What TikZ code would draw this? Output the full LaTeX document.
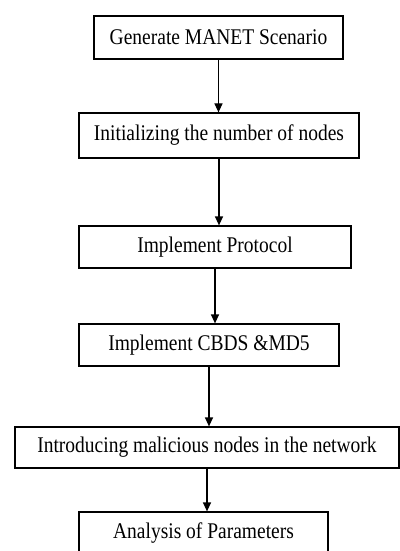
\documentclass[tikz,border=0pt]{standalone}
\usepackage{fontspec}
\setmainfont[FakeStretch=0.87]{Liberation Serif}
\usetikzlibrary{arrows.meta}
\tikzset{
  stepbox/.style={draw, line width=.6pt, inner sep=0pt, font=\fontsize{11.2}{13}\selectfont},
  flow/.style={line width=.6pt, -{Triangle[width=4pt,length=4.5pt]}}
}
\begin{document}
\begin{tikzpicture}[x=.5pt,y=-.5pt]
\useasboundingbox (0,0) rectangle (400,551);
\foreach \n/\x/\y/\w/\h/\t in {gen/218.5/37.5/249/43/Generate MANET Scenario,
  init/219/135.5/280/45/Initializing the number of nodes,
  proto/215/247/272/42/Implement Protocol,
  cbds/209/345/260/42/Implement CBDS \&MD5,
  mal/207/447.5/384/41/Introducing malicious nodes in the network,
  ana/203.5/533/249/42/Analysis of Parameters}
{
    \node[stepbox, minimum width=\w*.5pt, minimum height=\h*.5pt] (\n) at (\x,\y) {\t};
}

\foreach \a/\b in {gen/init, init/proto, proto/cbds, cbds/mal, mal/ana}
{
    \draw[flow] (\a.south) -- (\a.south |- \b.north);
}
\end{tikzpicture}
\end{document}
